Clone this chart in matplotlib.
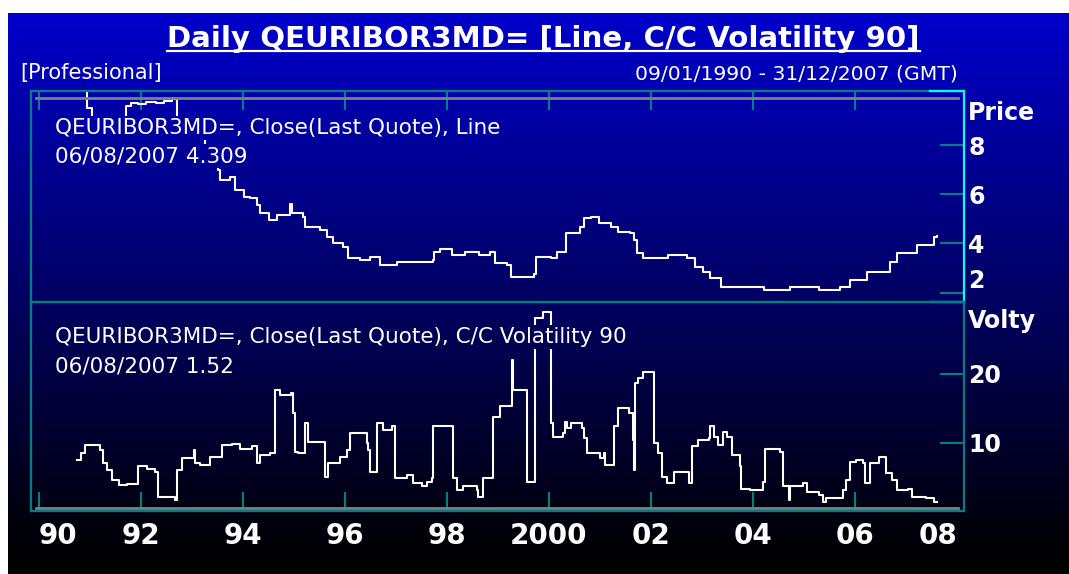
import matplotlib

matplotlib.use("Agg")
import matplotlib.pyplot as plt
import numpy as np
from matplotlib import font_manager
from matplotlib.lines import Line2D

# price: decimal year -> 3M rate (%), held until the next point
price_t = [1990.02, 1990.95, 1991.03, 1991.70, 1991.80, 1991.95, 1992.10, 1992.30,
           1992.45, 1992.60, 1992.70, 1992.85, 1993.05, 1993.25, 1993.40, 1993.50,
           1993.55, 1993.75, 1993.84, 1994.01, 1994.14, 1994.27, 1994.33, 1994.50,
           1994.66, 1994.92, 1994.96, 1994.98, 1995.18, 1995.22, 1995.51, 1995.64,
           1995.77, 1995.97, 1996.06, 1996.29, 1996.49, 1996.69, 1997.01, 1997.72,
           1997.75, 1997.87, 1998.09, 1998.35, 1998.62, 1998.84, 1998.95, 1999.18,
           1999.25, 1999.71, 1999.74, 2000.04, 2000.15, 2000.34, 2000.61, 2000.68,
           2000.83, 2000.98, 2001.21, 2001.36, 2001.58, 2001.66, 2001.73, 2001.84,
           2002.33, 2002.71, 2002.86, 2003.01, 2003.16, 2003.38, 2003.83, 2004.21,
           2004.73, 2005.30, 2005.71, 2005.90, 2006.23, 2006.68, 2006.83, 2007.21,
           2007.55, 2007.60]
price_v = [10.60, 9.50, 9.10, 9.60, 9.70, 9.65, 9.75, 9.70,
           9.80, 9.85, 9.10, 8.90, 8.30, 7.90, 7.50, 6.98,
           6.58, 6.71, 6.17, 5.90, 5.83, 5.56, 5.22, 4.95,
           5.15, 5.60, 5.22, 5.22, 5.09, 4.68, 4.54, 4.27,
           4.00, 3.87, 3.39, 3.33, 3.46, 3.12, 3.26, 3.33,
           3.66, 3.76, 3.53, 3.66, 3.53, 3.66, 3.19, 3.12,
           2.65, 2.76, 3.46, 3.39, 3.66, 4.41, 4.68, 5.02,
           5.09, 4.82, 4.68, 4.48, 4.41, 4.14, 3.60, 3.39,
           3.53, 3.39, 3.05, 2.85, 2.58, 2.24, 2.21, 2.11,
           2.21, 2.11, 2.24, 2.51, 2.85, 3.26, 3.60, 3.93,
           4.27, 4.309]

# close-to-close volatility 90
vol_t = [1990.74, 1990.82, 1990.90, 1991.20, 1991.26, 1991.33, 1991.43, 1991.56,
         1991.73, 1991.95, 1992.11, 1992.27, 1992.34, 1992.67, 1992.70, 1992.80,
         1993.03, 1993.06, 1993.16, 1993.35, 1993.58, 1993.78, 1993.94, 1994.17,
         1994.27, 1994.33, 1994.53, 1994.63, 1994.73, 1994.95, 1994.99, 1995.02,
         1995.08, 1995.22, 1995.28, 1995.57, 1995.61, 1995.67, 1995.90, 1996.03,
         1996.10, 1996.29, 1996.43, 1996.46, 1996.49, 1996.62, 1996.75, 1996.92,
         1996.98, 1997.21, 1997.34, 1997.50, 1997.60, 1997.70, 1997.73, 1998.12,
         1998.19, 1998.32, 1998.58, 1998.61, 1998.71, 1998.91, 1999.04, 1999.27,
         1999.30, 1999.57, 1999.72, 1999.89, 2000.04, 2000.07, 2000.28, 2000.32,
         2000.35, 2000.43, 2000.64, 2000.68, 2000.75, 2001.00, 2001.07, 2001.10,
         2001.28, 2001.35, 2001.56, 2001.64, 2001.67, 2001.69, 2001.74, 2001.85,
         2002.06, 2002.13, 2002.21, 2002.31, 2002.45, 2002.74, 2002.81, 2002.92,
         2003.13, 2003.16, 2003.24, 2003.31, 2003.41, 2003.49, 2003.59, 2003.74,
         2003.77, 2003.95, 2004.20, 2004.23, 2004.52, 2004.59, 2004.70, 2004.73,
         2004.98, 2005.05, 2005.30, 2005.37, 2005.44, 2005.76, 2005.83, 2005.90,
         2006.01, 2006.15, 2006.19, 2006.30, 2006.47, 2006.61, 2006.72, 2006.83,
         2007.04, 2007.11, 2007.40, 2007.54, 2007.60]
vol_v = [7.5, 8.5, 9.7, 9.0, 7.1, 6.1, 4.6, 3.9,
         4.0, 6.6, 6.2, 5.8, 2.2, 1.7, 6.1, 7.8,
         9.0, 7.1, 6.8, 8.0, 9.7, 9.9, 9.2, 9.5,
         7.1, 8.3, 8.5, 17.7, 17.0, 17.2, 14.3, 8.7,
         8.5, 12.9, 10.2, 10.2, 5.1, 7.1, 8.0, 9.0,
         11.4, 11.4, 10.0, 9.0, 5.8, 12.9, 11.9, 12.4,
         4.9, 5.4, 4.2, 3.7, 4.4, 4.9, 12.4, 4.9,
         3.2, 3.7, 3.2, 2.2, 4.9, 13.8, 15.3, 22.0,
         17.7, 4.4, 28.1, 29.0, 12.9, 10.9, 11.4, 13.1,
         12.1, 12.9, 12.1, 10.7, 8.5, 7.8, 8.5, 6.8,
         12.4, 15.0, 14.3, 10.4, 6.1, 18.7, 19.4, 20.3,
         10.0, 8.5, 5.1, 4.2, 5.8, 4.2, 9.5, 10.4,
         10.7, 12.4, 10.9, 9.7, 11.6, 10.9, 8.3, 6.6,
         3.4, 3.2, 4.4, 9.2, 8.7, 3.7, 1.7, 3.7,
         4.2, 2.9, 2.5, 1.5, 2.0, 3.2, 4.6, 7.3,
         7.5, 7.1, 4.2, 7.1, 8.0, 5.6, 4.6, 3.2,
         3.4, 2.2, 2.0, 1.5, 1.52]

year_ticks = [1990, 1992, 1994, 1996, 1998, 2000, 2002, 2004, 2006]
year_labels = ["90", "92", "94", "96", "98", "2000", "02", "04", "06", "08"]
price_ticks = [2, 4, 6, 8]
vol_ticks = [10, 20]

TITLE = "Daily QEURIBOR3MD= [Line, C/C Volatility 90]"
PRICE_LINES = ["QEURIBOR3MD=, Close(Last Quote), Line", "06/08/2007 4.309"]
VOL_LINES = ["QEURIBOR3MD=, Close(Last Quote), C/C Volatility 90", "06/08/2007 1.52"]

W, H = 1069, 574
TEAL = "#008080"
CYAN = "#00ffff"
GREY = "#808080"


def fx(px):
    return px / W


def fy(py):
    return 1 - py / H


def pick_font(names):
    for name in names:
        try:
            font_manager.findfont(
                font_manager.FontProperties(family=name), fallback_to_default=False
            )
            return name
        except ValueError:
            continue
    return "DejaVu Sans"


FONT = pick_font(["DejaVu Sans Condensed", "DejaVu Sans"])
plt.rcParams["font.family"] = FONT


def gradient(py0, py1):
    rows = np.arange(py0, py1, 0.5) + 0.25
    blue = 0.80 * np.clip(1 - (rows - 13) / 547, 0, 1)
    img = np.zeros((len(rows), 1, 3))
    img[:, 0, 2] = blue
    return img


def add_gradient_axes(fig, px0, py0, px1, py1, zorder):
    ax = fig.add_axes([fx(px0), fy(py1), (px1 - px0) / W, (py1 - py0) / H])
    ax.imshow(gradient(py0, py1), aspect="auto", extent=(0, 1, 0, 1),
              interpolation="bilinear")
    ax.set_axis_off()
    ax.set_zorder(zorder)
    return ax


def cover_text(fig, text, pad=2):
    renderer = fig.canvas.get_renderer()
    bb = text.get_window_extent(renderer=renderer)
    add_gradient_axes(fig, bb.x0 - pad, H - bb.y1 - pad, bb.x1 + pad, H - bb.y0 + pad, 2)


def style_panel(ax):
    ax.set_facecolor("none")
    ax.set_zorder(1)
    for spine in ax.spines.values():
        spine.set_color(TEAL)
        spine.set_linewidth(1.6)
    ax.set_xlim(1990 - 8 / 51, 1990 + 925 / 51)
    ax.yaxis.tick_right()
    ax.tick_params(axis="y", direction="in", length=17, width=1.5, color=TEAL,
                   labelcolor="white", labelsize=17, pad=3)


fig = plt.figure(figsize=(W / 100, H / 100), dpi=100, facecolor="white")
add_gradient_axes(fig, 8, 13, W, H, 0)

# price panel
ax_p = fig.add_axes([fx(31), fy(302), 933 / W, 211 / H])
style_panel(ax_p)
ax_p.set_ylim(1.62, 10.195)
ax_p.step(price_t, price_v, where="post", color="white", lw=1.5)
ax_p.set_xticks(year_ticks)
ax_p.tick_params(axis="x", bottom=False, top=True, labelbottom=False, direction="in",
                 length=14, width=1.5, color=TEAL)
ax_p.set_yticks(price_ticks, [str(v) for v in price_ticks], fontweight="bold")
ax_p.get_yticklabels()[0].set_va("bottom")
ax_p.plot([0.005, 0.9936], [0.967, 0.967], transform=ax_p.transAxes, color=GREY, lw=2)
ax_p.spines["right"].set_color(CYAN)
for yy in (0, 1):
    ax_p.add_line(Line2D([0.964, 1], [yy, yy], transform=ax_p.transAxes, color=CYAN,
                         lw=1.6, clip_on=False, zorder=5))

# volatility panel
ax_v = fig.add_axes([fx(31), fy(511), 933 / W, 209 / H])
style_panel(ax_v)
ax_v.set_ylim(0.145, 30.43)
ax_v.step(vol_t, vol_v, where="post", color="white", lw=1.5)
ax_v.set_xticks(year_ticks + [2008], year_labels, fontweight="bold", fontsize=20)
ax_v.tick_params(axis="x", bottom=True, top=False, direction="in", length=14,
                 width=1.5, color=TEAL, labelcolor="white", pad=8)
ax_v.xaxis.get_major_ticks()[-1].tick1line.set_visible(False)
xl = ax_v.get_xticklabels()
xl[0].set_ha("left")
xl[-1].set_ha("right")
ax_v.set_yticks(vol_ticks, [str(v) for v in vol_ticks], fontweight="bold")
ax_v.plot([0.005, 0.9936], [0.014, 0.014], transform=ax_v.transAxes, color=GREY, lw=2)

# header texts
title = fig.text(fx(543.5), fy(47), TITLE, ha="center", va="baseline", color="white",
                 fontsize=21.1, fontweight="bold", zorder=5)
fig.text(fx(20), fy(79), "[Professional]", color="white", fontsize=15, va="baseline",
         zorder=5)
fig.text(fx(958), fy(80), "09/01/1990 - 31/12/2007 (GMT)", color="white",
         fontsize=14.7, ha="right", va="baseline", zorder=5)
fig.text(fx(968), fy(120), "Price", color="white", fontsize=17, fontweight="bold",
         va="baseline", zorder=5)
fig.text(fx(968), fy(328), "Volty", color="white", fontsize=17, fontweight="bold",
         va="baseline", zorder=5)

renderer = fig.canvas.get_renderer()
bb = title.get_window_extent(renderer=renderer)
fig.add_artist(Line2D([bb.x0 / W, bb.x1 / W], [fy(51), fy(51)], color="white", lw=1.6,
                      zorder=5))

# panel legends with opaque (gradient) backing
for lines, baselines in ((PRICE_LINES, (134, 162)), (VOL_LINES, (343, 372))):
    for line, base in zip(lines, baselines):
        t = fig.text(fx(55), fy(base), line, color="white", fontsize=15.5,
                     va="baseline", zorder=5)
        cover_text(fig, t)

fig.savefig("out.png", dpi=100, facecolor=fig.get_facecolor())
